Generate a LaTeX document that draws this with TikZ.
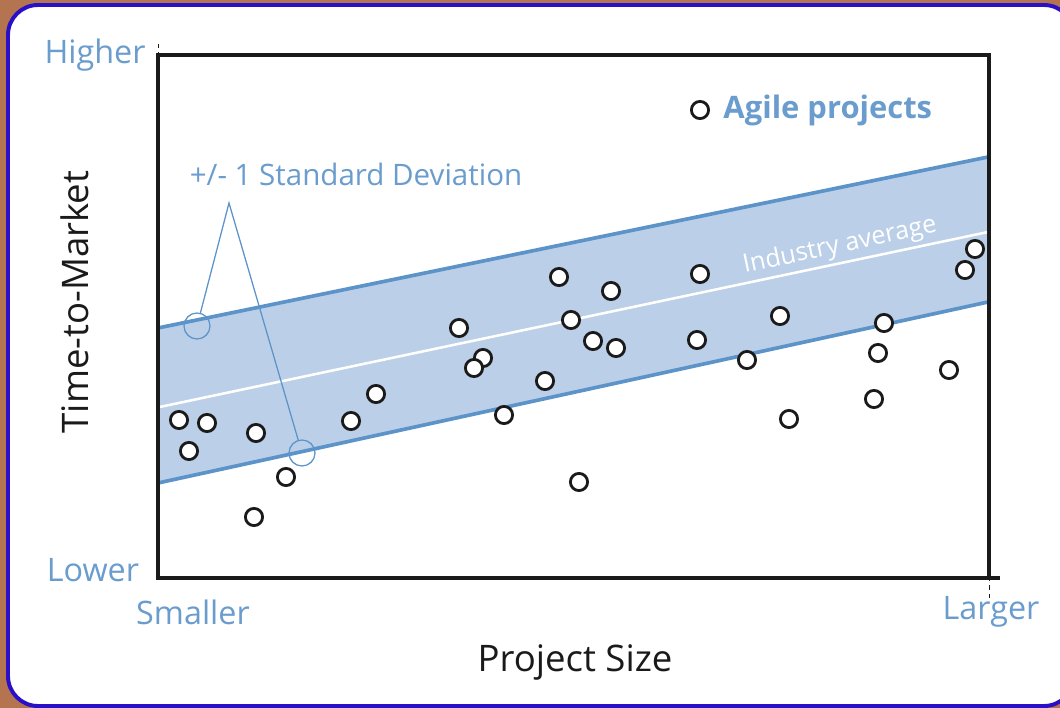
\documentclass[tikz,border=0pt]{standalone}
\usepackage{fontspec}
\setmainfont{Open Sans}
\usetikzlibrary{positioning}

\definecolor{woodbrown}{HTML}{B4744F}
\definecolor{cardnavy}{HTML}{2A0FC8}
\definecolor{labelblue}{HTML}{6A9CCD}
\definecolor{bandfill}{HTML}{BCCFE8}
\definecolor{bandline}{HTML}{5C94C9}
\definecolor{inkblack}{HTML}{1A1A1A}

\tikzset{
  endlabel/.style={font=\fontsize{23}{26}\selectfont, text=labelblue, inner sep=0pt},
  axistitle/.style={font=\fontsize{26}{30}\selectfont, text=inkblack, inner sep=0pt},
  projdot/.style={circle, draw=inkblack, fill=white, line width=2pt, minimum size=0.43cm, inner sep=0pt},
  sdring/.style={circle, draw=bandline, line width=0.9pt, minimum size=0.65cm, inner sep=0pt},
  sdline/.style={draw=bandline, line width=0.9pt},
}

\begin{document}
\begin{tikzpicture}[x=0.025cm, y=-0.025cm]
  % card on the wood background
  \fill[woodbrown] (0,0) rectangle (1060,708);
  \useasboundingbox (0,0) rectangle (1060,708);
  \begin{scope}
    \clip (0,0) rectangle (1060,708);
    \filldraw[fill=white, draw=cardnavy, line width=2.8pt, rounded corners=0.75cm] (8,5) rectangle (1074,706);
  \end{scope}

  % +/- 1 sd band and the average line
  \fill[bandfill] (158,328) -- (988,157) -- (988,302) -- (158,483) -- cycle;
  \draw[bandline, line width=2.6pt] (158,328) -- (988,157);
  \draw[bandline, line width=2.6pt] (158,483) -- (988,302);
  \draw[white, line width=1.8pt] (155,408) -- (988,232);
  \node[font=\fontsize{18}{20}\selectfont, text=white, rotate=12, inner sep=0pt] (avglabel) at (840,246) {Industry average};

  % plot frame with crop ticks
  \draw[inkblack, line width=3.4pt] (158,55) rectangle (989,578);
  \draw[inkblack, line width=3.4pt] (989,578) -- (1000,578);
  \draw[inkblack, line width=0.6pt, dashed] (158,44) -- (158,55);
  \draw[inkblack, line width=0.6pt, dashed] (989,560) -- (989,598);

  % project points
  \foreach \px/\py [count=\k] in {179/420, 207/423, 189/451, 256/433, 286/477, 254/517,
      351/421, 376/394, 459/328, 483/358, 474/368, 504/415, 545/381, 559/277, 571/320,
      593/341, 611/291, 616/348, 579/482, 700/274, 697/340, 747/360, 780/316, 789/419,
      884/323, 878/353, 874/399, 949/370, 965/270, 975/249}
    \node[projdot] (p\k) at (\px,\py) {};

  % legend
  \node[projdot] (legdot) at (700,110) {};
  \node[right=0.33cm of legdot, font=\fontsize{22}{26}\selectfont\bfseries, text=labelblue, inner sep=0pt] (legtext) {Agile projects};

  % standard deviation callout
  \node[font=\fontsize{21}{24}\selectfont, text=labelblue, inner sep=0pt] (sdlabel) at (356,174) {+/- 1 Standard Deviation};
  \coordinate (apex) at (229,203);
  \node[sdring] (ringup) at (197,326) {};
  \node[sdring] (ringlow) at (302,453) {};
  \draw[sdline] (ringup) -- (apex) -- (ringlow);

  % axis labels
  \node[endlabel] (higher) at (95,55) {Higher};
  \node[endlabel] (lower) at (93,570) {Lower};
  \node[endlabel] (smaller) at (193,612) {Smaller};
  \node[endlabel] (larger) at (991,612) {Larger};
  \node[axistitle] (xtitle) at (575,662) {Project Size};
  \node[axistitle, rotate=90] (ytitle) at (75,302) {Time-to-Market};
\end{tikzpicture}
\end{document}
